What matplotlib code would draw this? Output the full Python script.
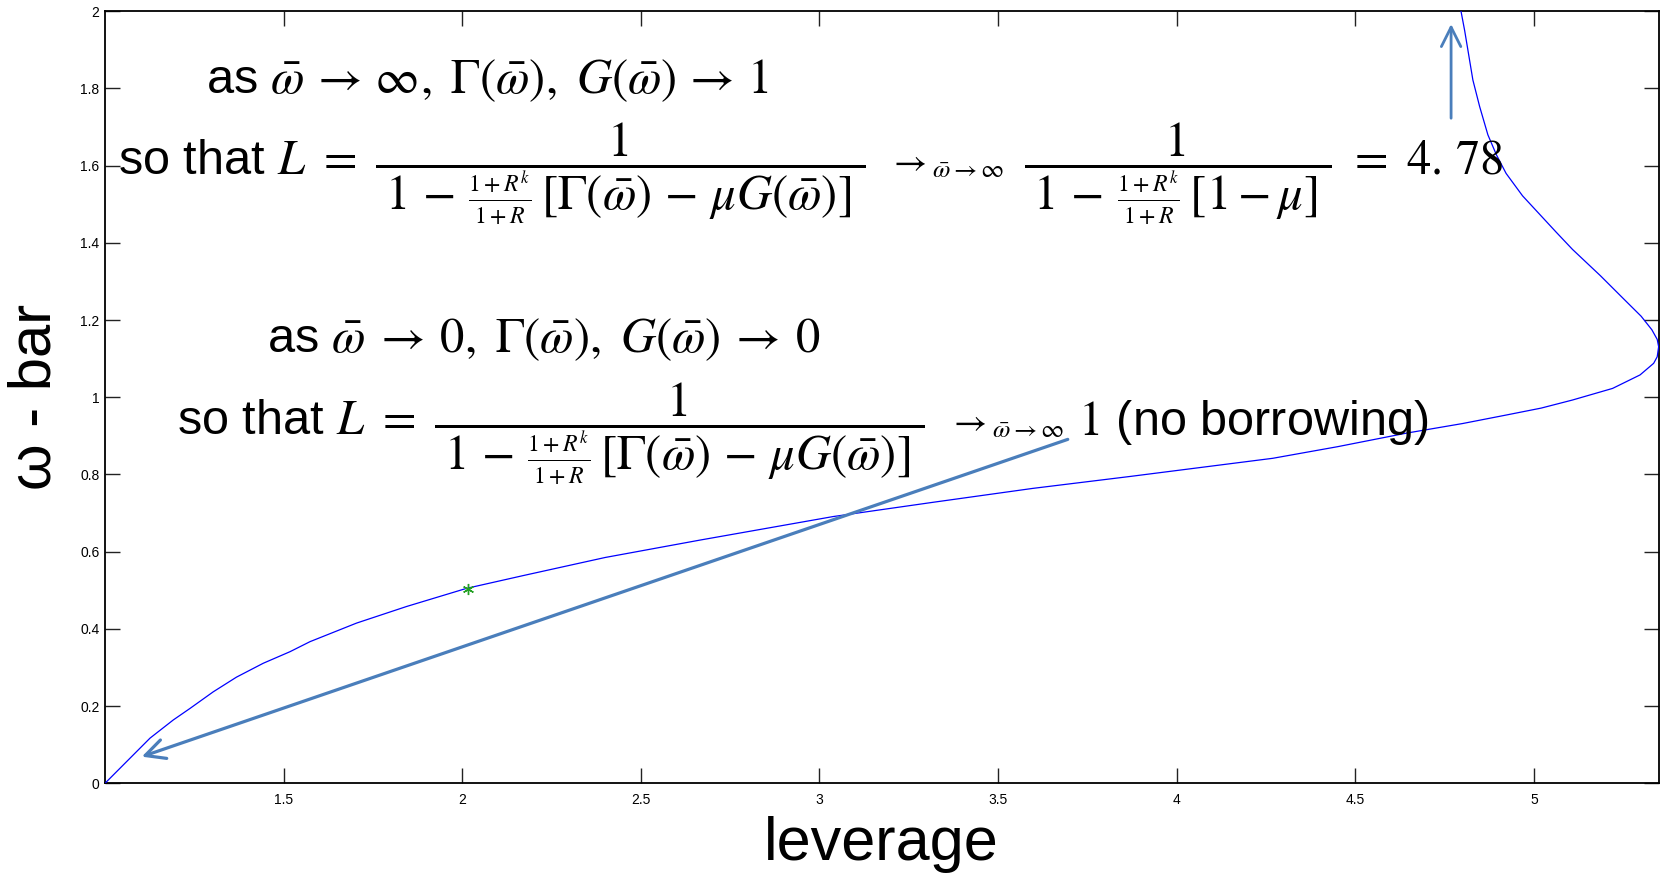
import matplotlib
matplotlib.use("Agg")
import matplotlib.pyplot as plt

plt.rcParams['font.family'] = ['Liberation Sans', 'DejaVu Sans']
plt.rcParams['mathtext.fontset'] = 'stix'

# ---- data ----
leverage = [1.000, 1.042, 1.084, 1.126, 1.191, 1.238, 1.303, 1.368, 1.443, 1.518,
            1.574, 1.704, 1.844, 2.012, 2.170, 2.400, 2.665, 3.038, 3.318, 3.597,
            3.870, 4.269, 4.450, 4.642, 4.800, 4.922, 5.020, 5.108, 5.220, 5.297,
            5.335, 5.345, 5.349, 5.345, 5.330, 5.300, 5.251, 5.186, 5.108, 5.062,
            5.015, 4.968, 4.922, 4.895, 4.871, 4.848, 4.829, 4.815, 4.806, 4.796,
            4.790]
omega_bar = [0.000, 0.039, 0.078, 0.117, 0.164, 0.194, 0.237, 0.275, 0.311, 0.341,
             0.367, 0.415, 0.458, 0.505, 0.538, 0.585, 0.630, 0.691, 0.728, 0.764,
             0.795, 0.842, 0.872, 0.907, 0.932, 0.954, 0.972, 0.993, 1.023, 1.058,
             1.088, 1.105, 1.131, 1.150, 1.175, 1.210, 1.255, 1.315, 1.383, 1.428,
             1.475, 1.522, 1.580, 1.628, 1.680, 1.753, 1.822, 1.900, 1.950, 1.999,
             2.060]
star_x = [2.015]
star_y = [0.503]

xticks = [1.5, 2, 2.5, 3, 3.5, 4, 4.5, 5]
xticklabels = ['1.5', '2', '2.5', '3', '3.5', '4', '4.5', '5']
yticks = [0, 0.2, 0.4, 0.6, 0.8, 1.0, 1.2, 1.4, 1.6, 1.8, 2.0]
yticklabels = ['0', '0.2', '0.4', '0.6', '0.8', '1', '1.2', '1.4', '1.6', '1.8', '2']

# annotation arrows (start -> end in data coords)
up_arrow_start = (4.768, 1.723)
up_arrow_end = (4.768, 1.967)
down_arrow_start = (3.695, 0.891)
down_arrow_end = (1.103, 0.069)

W, H = 1660, 874
fig = plt.figure(figsize=(W / 100, H / 100), dpi=100)
ax = fig.add_axes([105 / W, (H - 783.3) / H, (1659 - 105) / W, (783.3 - 11.3) / H])

ax.plot(leverage, omega_bar, color='#0000ff', lw=0.9, zorder=3)
ax.plot(star_x, star_y, linestyle='none', marker=(6, 2, 0), markersize=8,
        markeredgewidth=1.0, color='#22a022', zorder=4)

arrow_color = '#4a7ebb'
ax.annotate('', xy=up_arrow_end, xytext=up_arrow_start,
            arrowprops=dict(arrowstyle='->,head_length=0.7,head_width=0.35',
                            color=arrow_color, lw=2.0, mutation_scale=20,
                            shrinkA=0, shrinkB=0))
ax.annotate('', xy=down_arrow_end, xytext=down_arrow_start,
            arrowprops=dict(arrowstyle='->,head_length=0.7,head_width=0.35',
                            color=arrow_color, lw=2.3, mutation_scale=20,
                            shrinkA=0, shrinkB=0))

ax.set_xlim(1, 5.35)
ax.set_ylim(0, 2)
ax.set_xticks(xticks)
ax.set_xticklabels(xticklabels)
ax.set_yticks(yticks)
ax.set_yticklabels(yticklabels)
ax.tick_params(direction='in', length=11, width=1.0, top=True, right=True,
               labelsize=10, color='#222222')
ax.tick_params(axis='x', pad=7)
ax.tick_params(axis='y', pad=4)
for s in ax.spines.values():
    s.set_linewidth(1.3)
    s.set_color('black')

fig.text(881 / W, (H - 860) / H, 'leverage', fontsize=44, ha='center', va='baseline')
fig.text(35 / W, 0.5455, 'ω - bar', fontsize=43, ha='center', va='center', rotation=90)

fs = 35
fracA = (r"$L\ =\ \dfrac{1}{\;1\,-\,\genfrac{}{}{1.5}{2}{1+R^k}{1+R}\,"
         r"[\Gamma(\bar{\omega})\,-\,\mu G(\bar{\omega})]\;}$")
fracC = r"$\dfrac{1}{\;1\,-\,\genfrac{}{}{1.5}{2}{1+R^k}{1+R}\,[1-\mu]\;}\ =\ 4.\,78$"
arrowsub = r"$\rightarrow_{\bar{\omega}\rightarrow\infty}$"

def ft(xpx, ybase_px, s, size=fs, **kw):
    fig.text(xpx / W, (H - ybase_px) / H, s, fontsize=size, ha='left', va='baseline', **kw)

ft(206, 92.7, r"as $\bar{\omega}\,\rightarrow\,\infty,\ \Gamma(\bar{\omega}),\ G(\bar{\omega})\,\rightarrow\,1$")
ft(118, 175, "so that " + fracA)
ft(888, 173, arrowsub, size=26)
ft(1024, 175, fracC)

ft(267, 352, r"as $\bar{\omega}\:\rightarrow\:0,\ \Gamma(\bar{\omega}),\ G(\bar{\omega})\:\rightarrow\:0$")
ft(177, 435, "so that " + fracA)
ft(948, 433, arrowsub, size=26)
ft(1078, 435, r"$1$ (no borrowing)")

fig.savefig('out.png', dpi=100)
